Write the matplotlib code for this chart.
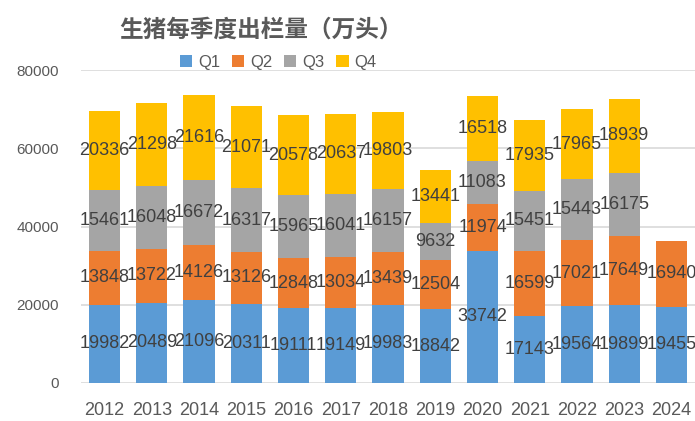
import numpy as np
import matplotlib
matplotlib.use('Agg')
import matplotlib.pyplot as plt

years = ['2012', '2013', '2014', '2015', '2016', '2017', '2018',
         '2019', '2020', '2021', '2022', '2023', '2024']
q1 = [19982, 20489, 21096, 20311, 19111, 19149, 19983, 18842, 33742, 17143, 19564, 19899, 19455]
q2 = [13848, 13722, 14126, 13126, 12848, 13034, 13439, 12504, 11974, 16599, 17021, 17649, 16940]
q3 = [15461, 16048, 16672, 16317, 15965, 16041, 16157, 9632, 11083, 15451, 15443, 16175, None]
q4 = [20336, 21298, 21616, 21071, 20578, 20637, 19803, 13441, 16518, 17935, 17965, 18939, None]
series = [('Q1', q1, '#5B9BD5'), ('Q2', q2, '#ED7D31'),
          ('Q3', q3, '#A5A5A5'), ('Q4', q4, '#FFC000')]

NUM_FONT = ['Liberation Sans', 'DejaVu Sans']
TXT = '#595959'

fig = plt.figure(figsize=(6.95, 4.21), dpi=100)
ax = fig.add_axes([81/695, 38/421, 1 - 81/695, 313/421])

x = np.arange(len(years))
bottom = np.zeros(len(years))
handles = []
for name, vals, col in series:
    v = np.array([0 if a is None else a for a in vals], dtype=float)
    b = ax.bar(x, v, 0.66, bottom=bottom, color=col, label=name, zorder=2)
    handles.append(b)
    for i, a in enumerate(vals):
        if a is None:
            continue
        ax.text(x[i], bottom[i] + a / 2, str(a), ha='center', va='center',
                fontsize=13, color='#404040', family=NUM_FONT, zorder=3)
    bottom += v

ax.set_xlim(-0.5, 12.5)
ax.set_ylim(0, 80000)
ax.set_yticks(np.arange(0, 80001, 20000))
ax.set_xticks(x)
ax.set_xticklabels(years)
ax.yaxis.grid(True, color='#D9D9D9', lw=1.2, zorder=0)
ax.set_axisbelow(True)
for s in ax.spines.values():
    s.set_visible(False)
ax.tick_params(axis='both', length=0, colors=TXT)
ax.tick_params(axis='y', pad=16, labelsize=11)
ax.tick_params(axis='x', pad=14, labelsize=13)
for t in ax.get_xticklabels() + ax.get_yticklabels():
    t.set_family(NUM_FONT)

fig.text(261/695, 1 - 30/421, '生猪每季度出栏量（万头）', ha='center', va='center',
         fontsize=17, fontweight='bold', color=TXT,
         family=['Noto Sans CJK SC', 'DejaVu Sans'])

leg = fig.legend(handles=handles, loc='center', bbox_to_anchor=(278/695, 1 - 62/421),
                 ncol=4, frameon=False, handlelength=0.75, handleheight=0.75,
                 handletextpad=0.35, columnspacing=0.7, labelcolor=TXT,
                 prop={'family': NUM_FONT, 'size': 12})

plt.savefig('out.png', dpi=100)
